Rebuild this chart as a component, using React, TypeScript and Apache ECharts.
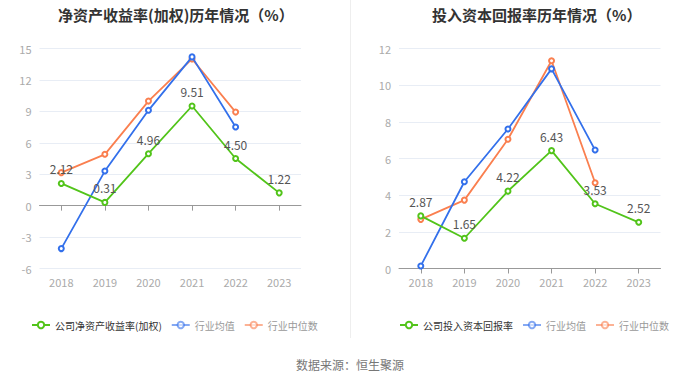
import React, { useEffect, useRef } from "react";
import * as echarts from "echarts";

const years = ["2018", "2019", "2020", "2021", "2022", "2023"];
const roeCompany = [2.12, 0.31, 4.96, 9.51, 4.5, 1.22];
const roeAvg = [-4.1, 3.3, 9.1, 14.2, 7.5, null];
const roeMedian = [3.15, 4.9, 9.98, 14.0, 8.93, null];
const roicCompany = [2.87, 1.65, 4.22, 6.43, 3.53, 2.52];
const roicAvg = [0.14, 4.73, 7.61, 10.89, 6.46, null];
const roicMedian = [2.68, 3.73, 7.05, 11.33, 4.68, null];

const GREEN = "#52c41a";
const BLUE = "#3370eb";
const ORANGE = "#fa7f4f";
const FONT = "'Noto Sans CJK SC', 'Noto Sans', sans-serif";

export default function App() {
  const ref = useRef<HTMLDivElement>(null);
  useEffect(() => {
    if (!ref.current) return;
    const chart = echarts.init(ref.current, null, { renderer: "svg" });
    const mkSeries = (name: string, data: any[], color: string, idx: number, label: boolean, z: number) => ({
      name,
      type: "line",
      data,
      xAxisIndex: idx * 2,
      yAxisIndex: idx,
      symbol: "emptyCircle",
      symbolSize: 5,
      z,
      lineStyle: { color, width: 1.8 },
      itemStyle: { color, borderWidth: 1.5 },
      label: label
        ? { show: true, position: "top", color: "#555", fontSize: 12, fontFamily: FONT, formatter: (p: any) => p.value.toFixed(2) }
        : { show: false },
    });
    const xPair = (gi: number) => [
      {
        type: "category",
        data: years,
        gridIndex: gi,
        position: "bottom",
        axisLine: { onZero: true, lineStyle: { color: "#999", width: 1 } },
        axisTick: { show: true, alignWithLabel: true, lineStyle: { color: "#999" } },
        axisLabel: { show: false },
      },
      {
        type: "category",
        data: years,
        gridIndex: gi,
        position: "bottom",
        axisLine: { show: false, onZero: false },
        axisTick: { show: false },
        axisLabel: { show: true, color: "#aaa", fontSize: 11, fontFamily: FONT, margin: 8 },
      },
    ];
    const yAx = (gi: number, min: number, max: number, interval: number) => ({
      type: "value",
      gridIndex: gi,
      min,
      max,
      interval,
      axisLine: { show: false },
      axisTick: { show: false },
      axisLabel: { color: "#aaa", fontSize: 11, fontFamily: FONT, margin: 8 },
      splitLine: { lineStyle: { color: "#e8edf5" } },
    });
    const legendData = (first: string) => [
      { name: first, textStyle: { color: "#333" } },
      { name: "行业均值", textStyle: { color: "#999" }, itemStyle: { opacity: 0.6 }, lineStyle: { opacity: 0.6 } },
      { name: "行业中位数", textStyle: { color: "#999" }, itemStyle: { opacity: 0.6 }, lineStyle: { opacity: 0.6 } },
    ];
    const legendBase = {
      top: 315,
      itemWidth: 18,
      itemHeight: 8,
      itemGap: 9,
      textStyle: { fontSize: 10, fontFamily: FONT },
    };
    chart.setOption({
      animation: false,
      title: [
        { text: "净资产收益率(加权)历年情况（%）", left: 53, top: 2, textStyle: { fontSize: 15, fontWeight: "bold", color: "#333", fontFamily: FONT } },
        { text: "投入资本回报率历年情况（%）", left: 427, top: 2, textStyle: { fontSize: 15, fontWeight: "bold", color: "#333", fontFamily: FONT } },
        { text: "数据来源：恒生聚源", left: "center", top: 353, textStyle: { fontSize: 12, fontWeight: "normal", color: "#777", fontFamily: FONT } },
      ],
      legend: [
        { ...legendBase, left: 26, data: legendData("公司净资产收益率(加权)") },
        { ...legendBase, left: 394, data: legendData("公司投入资本回报率") },
      ],
      grid: [
        { left: 39.5, width: 261.5, top: 48.5, height: 220, containLabel: false },
        { left: 399, width: 261.5, top: 48.5, height: 220, containLabel: false },
      ],
      xAxis: [...xPair(0), ...xPair(1)],
      yAxis: [yAx(0, -6, 15, 3), yAx(1, 0, 12, 2)],
      series: [
        mkSeries("公司净资产收益率(加权)", roeCompany, GREEN, 0, true, 5),
        mkSeries("行业均值", roeAvg, BLUE, 0, false, 3),
        mkSeries("行业中位数", roeMedian, ORANGE, 0, false, 2),
        mkSeries("公司投入资本回报率", roicCompany, GREEN, 1, true, 5),
        mkSeries("行业均值", roicAvg, BLUE, 1, false, 3),
        mkSeries("行业中位数", roicMedian, ORANGE, 1, false, 2),
      ],
      graphic: [
        { type: "line", shape: { x1: 350.5, y1: 0, x2: 350.5, y2: 338 }, style: { stroke: "#eeeeee", lineWidth: 1 } },
      ],
    });
    return () => chart.dispose();
  }, []);
  return <div ref={ref} style={{ width: 700, height: 378, position: "absolute", left: 0, top: 0 }} />;
}
